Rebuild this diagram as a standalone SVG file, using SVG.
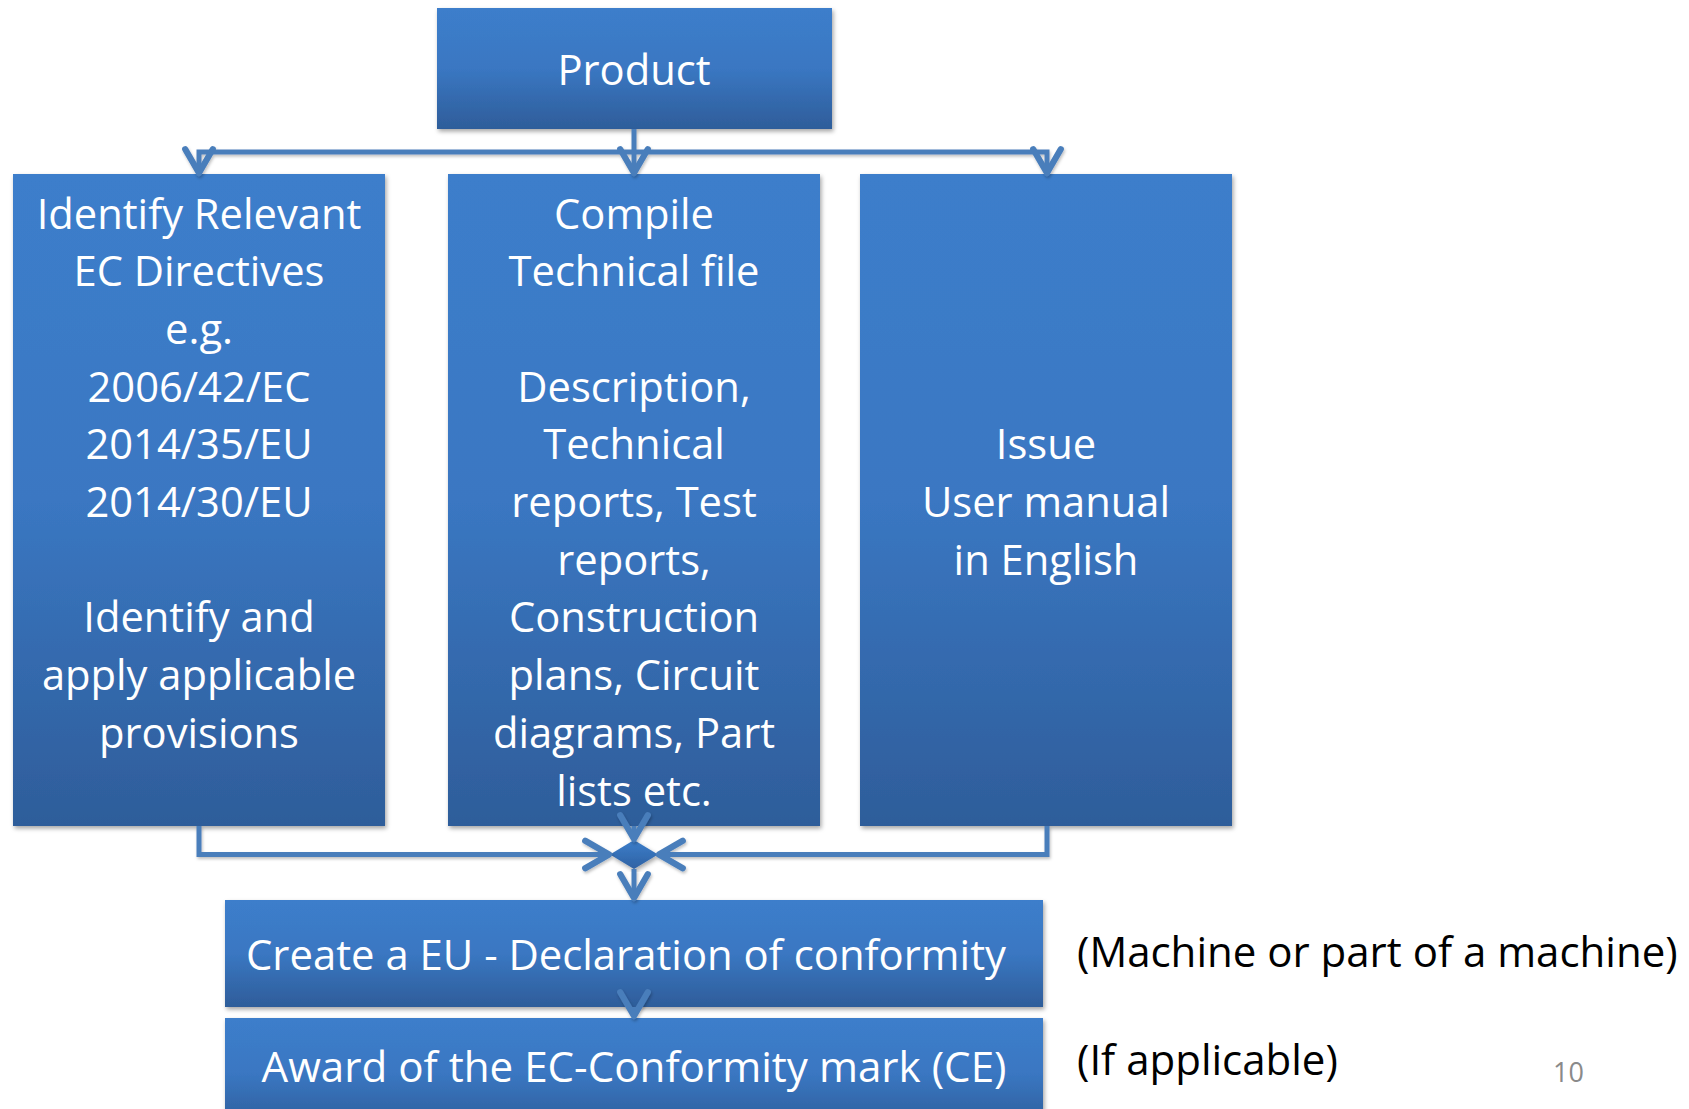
<svg xmlns="http://www.w3.org/2000/svg" width="1689" height="1109" viewBox="0 0 1689 1109">
<style>
.box{fill:url(#boxGrad);filter:url(#shadow);}
.t{font-family:"Open Sans","Liberation Sans",sans-serif;fill:#ffffff;text-anchor:middle;font-size:41.7px;}
.lbl{font-family:"Open Sans","Liberation Sans",sans-serif;fill:#000000;font-size:42px;}
.num{font-family:"Open Sans","Liberation Sans",sans-serif;fill:#8a8a8a;font-size:27px;}
.conn{fill:none;stroke:#4a7ebb;stroke-width:5;stroke-linejoin:miter;marker-end:url(#chev);}
</style>
<defs>
<linearGradient id="boxGrad" x1="0" y1="0" x2="0" y2="1">
<stop offset="0" stop-color="#3c7ecb"/>
<stop offset="0.5" stop-color="#3a77c2"/>
<stop offset="1" stop-color="#2e5d9a"/>
</linearGradient>
<linearGradient id="diaGrad" x1="0" y1="0" x2="0" y2="1">
<stop offset="0" stop-color="#3c7ecb"/>
<stop offset="1" stop-color="#2f62a3"/>
</linearGradient>
<filter id="shadow" x="-10%" y="-10%" width="120%" height="120%">
<feDropShadow dx="1.5" dy="2.5" stdDeviation="2" flood-color="#000" flood-opacity="0.35"/>
</filter>
<filter id="lshadow" x="-10%" y="-10%" width="120%" height="120%">
<feDropShadow dx="1" dy="2" stdDeviation="1.5" flood-color="#000" flood-opacity="0.25"/>
</filter>
<marker id="chev" markerUnits="userSpaceOnUse" markerWidth="40" markerHeight="40" viewBox="-25 -16 30 32" refX="0" refY="0" orient="auto" overflow="visible">
<path d="M-19,-11 L0,0 L-19,11" fill="none" stroke="#4a7ebb" stroke-width="5" stroke-linecap="round" stroke-linejoin="round"/>
</marker>
</defs>
<rect width="1689" height="1109" fill="#ffffff"/>

<g id="product">
<rect class="box" x="437" y="8" width="395" height="121"/>
<text class="t" x="634" y="85">Product</text>
</g>

<g id="directives">
<rect class="box" x="13" y="174" width="372" height="652"/>
<text class="t" x="199" y="228.5">Identify Relevant</text>
<text class="t" x="199" y="286.2">EC Directives</text>
<text class="t" x="199" y="343.9">e.g.</text>
<text class="t" x="199" y="401.6">2006/42/EC</text>
<text class="t" x="199" y="459.3">2014/35/EU</text>
<text class="t" x="199" y="517">2014/30/EU</text>
<text class="t" x="199" y="632.4">Identify and</text>
<text class="t" x="199" y="690.1">apply applicable</text>
<text class="t" x="199" y="747.8">provisions</text>
</g>

<g id="technical-file">
<rect class="box" x="448" y="174" width="372" height="652"/>
<text class="t" x="634" y="228.5">Compile</text>
<text class="t" x="634" y="286.2">Technical file</text>
<text class="t" x="634" y="401.6">Description,</text>
<text class="t" x="634" y="459.3">Technical</text>
<text class="t" x="634" y="517">reports, Test</text>
<text class="t" x="634" y="574.7">reports,</text>
<text class="t" x="634" y="632.4">Construction</text>
<text class="t" x="634" y="690.1">plans, Circuit</text>
<text class="t" x="634" y="747.8">diagrams, Part</text>
<text class="t" x="634" y="805.5">lists etc.</text>
</g>

<g id="user-manual">
<rect class="box" x="860" y="174" width="372" height="652"/>
<text class="t" x="1046" y="459.3">Issue</text>
<text class="t" x="1046" y="517">User manual</text>
<text class="t" x="1046" y="574.7">in English</text>
</g>

<g id="merge">
<polygon points="634,840 658,854.5 634,869 610,854.5" fill="url(#diaGrad)" filter="url(#shadow)"/>
</g>

<g id="declaration">
<rect class="box" x="225" y="900" width="818" height="107"/>
<text class="t" x="626" y="970" font-size="40" textLength="760" lengthAdjust="spacingAndGlyphs">Create a EU - Declaration of conformity</text>
</g>

<g id="ce-mark">
<rect class="box" x="225" y="1018" width="818" height="110"/>
<text class="t" x="634" y="1081.7" font-size="40" textLength="745" lengthAdjust="spacingAndGlyphs">Award of the EC-Conformity mark (CE)</text>
</g>

<g id="label-machine">
<text class="lbl" x="1077" y="967">(Machine or part of a machine)</text>
</g>
<g id="label-applicable">
<text class="lbl" x="1077" y="1075">(If applicable)</text>
</g>
<g id="page-number">
<text class="num" x="1553" y="1082">10</text>
</g>

<g id="connectors" filter="url(#lshadow)">
<path class="conn" d="M634,129 V173"/>
<path class="conn" d="M634,152 H199 V173"/>
<path class="conn" d="M634,152 H1047 V173"/>
<path class="conn" d="M199,826 V854.5 H609"/>
<path class="conn" d="M1047,826 V854.5 H659"/>
<path class="conn" d="M634,826 V839"/>
<path class="conn" d="M634,869 V898"/>
<path class="conn" d="M634,1007 V1016"/>
</g>
</svg>
